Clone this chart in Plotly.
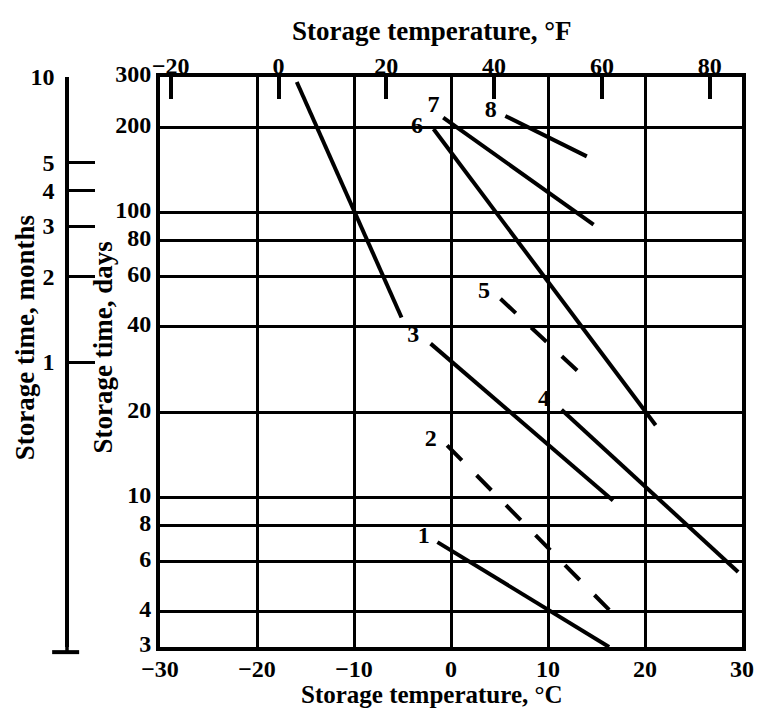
import math
import plotly.graph_objects as go

# ---- axis ticks ----
temp_c_ticks = [-30, -20, -10, 0, 10, 20, 30]
temp_f_ticks = [-20, 0, 20, 40, 60, 80]
days_ticks = [3, 4, 6, 8, 10, 20, 40, 60, 80, 100, 200, 300]
months_ticks = [1, 2, 3, 4, 5, 10]

# ---- curves (temperature °C, storage days) ----
c1_temp = [-1.4, 16.3]
c1_days = [7.0, 3.0]
c2_temp = [-0.4, 17.1]
c2_days = [15.3, 3.8]
c3a_temp = [-15.9, -5.1]
c3a_days = [288, 43]
c3b_temp = [-2.1, 16.7]
c3b_days = [34.8, 9.8]
c4_temp = [11.4, 29.6]
c4_days = [20.4, 5.5]
c5_temp = [5.1, 13.5]
c5_days = [50, 27]
c6_temp = [-1.8, 21.1]
c6_days = [197, 18]
c7_temp = [-0.8, 14.7]
c7_days = [216, 91]
c8_temp = [5.6, 14.0]
c8_days = [219, 158]

label_names = ["1", "2", "3", "4", "5", "6", "7", "8"]
label_temp = [-2.8, -2.1, -3.9, 9.6, 3.4, -3.5, -1.8, 4.1]
label_days = [7.3, 16.0, 37.0, 22.0, 53.0, 200, 238, 228]

FONT = "Liberation Serif"
solid = [(c1_temp, c1_days), (c3a_temp, c3a_days), (c3b_temp, c3b_days),
         (c4_temp, c4_days), (c6_temp, c6_days), (c7_temp, c7_days),
         (c8_temp, c8_days)]
dashed = [(c2_temp, c2_days), (c5_temp, c5_days)]

fig = go.Figure()
for t, d in solid:
    fig.add_trace(go.Scatter(x=t, y=d, mode="lines",
                             line=dict(color="black", width=4),
                             showlegend=False, hoverinfo="skip"))
for t, d in dashed:
    fig.add_trace(go.Scatter(x=t, y=d, mode="lines",
                             line=dict(color="black", width=4, dash="21px,21px"),
                             showlegend=False, hoverinfo="skip"))

fig.add_trace(go.Scatter(x=label_temp, y=label_days, mode="text",
                         text=label_names,
                         textfont=dict(family=FONT, size=24, color="black", weight="bold"),
                         showlegend=False, hoverinfo="skip"))

# invisible helpers for the extra axes
fig.add_trace(go.Scatter(x=[-22, 86], y=[10, 10], xaxis="x2", yaxis="y",
                         mode="lines", line=dict(width=0), showlegend=False, hoverinfo="skip"))
fig.add_trace(go.Scatter(x=[0, 0], y=[1, 1], xaxis="x", yaxis="y2",
                         mode="lines", line=dict(width=0), showlegend=False, hoverinfo="skip"))

tickfont = dict(family=FONT, size=24, color="black", weight="bold")
titlefont_top = dict(family=FONT, size=27, color="black", weight="bold")
titlefont_bot = dict(family=FONT, size=25, color="black", weight="bold")
titlefont_v = dict(family=FONT, size=27, color="black", weight="bold")
x0dom = (160 - 67) / 675

fig.update_layout(
    width=765, height=709,
    margin=dict(l=67, r=23, t=77, b=62, autoexpand=False),
    paper_bgcolor="white", plot_bgcolor="white",
    font=dict(family=FONT, color="black"),
    xaxis=dict(domain=[x0dom, 1], range=[-30, 30], tickvals=temp_c_ticks,
               showgrid=True, gridcolor="black", gridwidth=2.7, zeroline=False,
               showline=True, linecolor="black", linewidth=4, mirror=True,
               ticks="", tickfont=tickfont, ticklabelstandoff=-3, fixedrange=True),
    xaxis2=dict(domain=[x0dom, 1], overlaying="x", side="top", anchor="y",
                range=[-22, 86], tickvals=temp_f_ticks, showgrid=False, zeroline=False,
                ticks="inside", ticklen=22, tickwidth=3.5, tickcolor="black",
                tickfont=tickfont, ticklabelstandoff=-3, showline=False),
    yaxis=dict(type="log", range=[math.log10(3), math.log10(300)], tickvals=days_ticks,
               ticktext=[str(v) for v in days_ticks],
               showgrid=True, gridcolor="black", gridwidth=2.7, zeroline=False,
               showline=True, linecolor="black", linewidth=4, mirror=True,
               ticks="", tickfont=tickfont, ticklabelstandoff=0, ticklabelshift=-3),
    yaxis2=dict(type="log", range=[-1, 1], overlaying="y", anchor="free", position=0,
                side="left", tickvals=months_ticks, ticktext=[str(v) for v in months_ticks],
                ticks="inside", ticklen=26, tickwidth=3, tickcolor="black",
                showline=True, linecolor="black", linewidth=3.5, showgrid=False,
                zeroline=False, tickfont=tickfont, ticklabelstandoff=6),
    shapes=[
        dict(type="line", xref="paper", yref="paper", x0=0, x1=0, y0=0, y1=-0.009,
             line=dict(color="black", width=3.5)),
        dict(type="line", xref="paper", yref="paper", x0=-0.022, x1=0.018, y0=-0.009, y1=-0.009,
             line=dict(color="black", width=4)),
    ],
    annotations=[
        dict(text="Storage time, months", xref="paper", yref="paper", x=-0.062, y=0.542,
             textangle=-90, showarrow=False, xanchor="center", yanchor="middle",
             font=titlefont_v),
        dict(text="Storage time, days", xref="paper", yref="paper", x=0.053, y=0.525,
             textangle=-90, showarrow=False, xanchor="center", yanchor="middle",
             font=titlefont_v),
        dict(text="Storage temperature, °C", xref="paper", yref="paper", x=0.54, y=-0.084,
             showarrow=False, xanchor="center", yanchor="middle",
             font=titlefont_bot),
        dict(text="Storage temperature, °F", xref="paper", yref="paper", x=0.54, y=1.081,
             showarrow=False, xanchor="center", yanchor="middle",
             font=titlefont_top),
    ],
)

fig.write_html("out.html")
